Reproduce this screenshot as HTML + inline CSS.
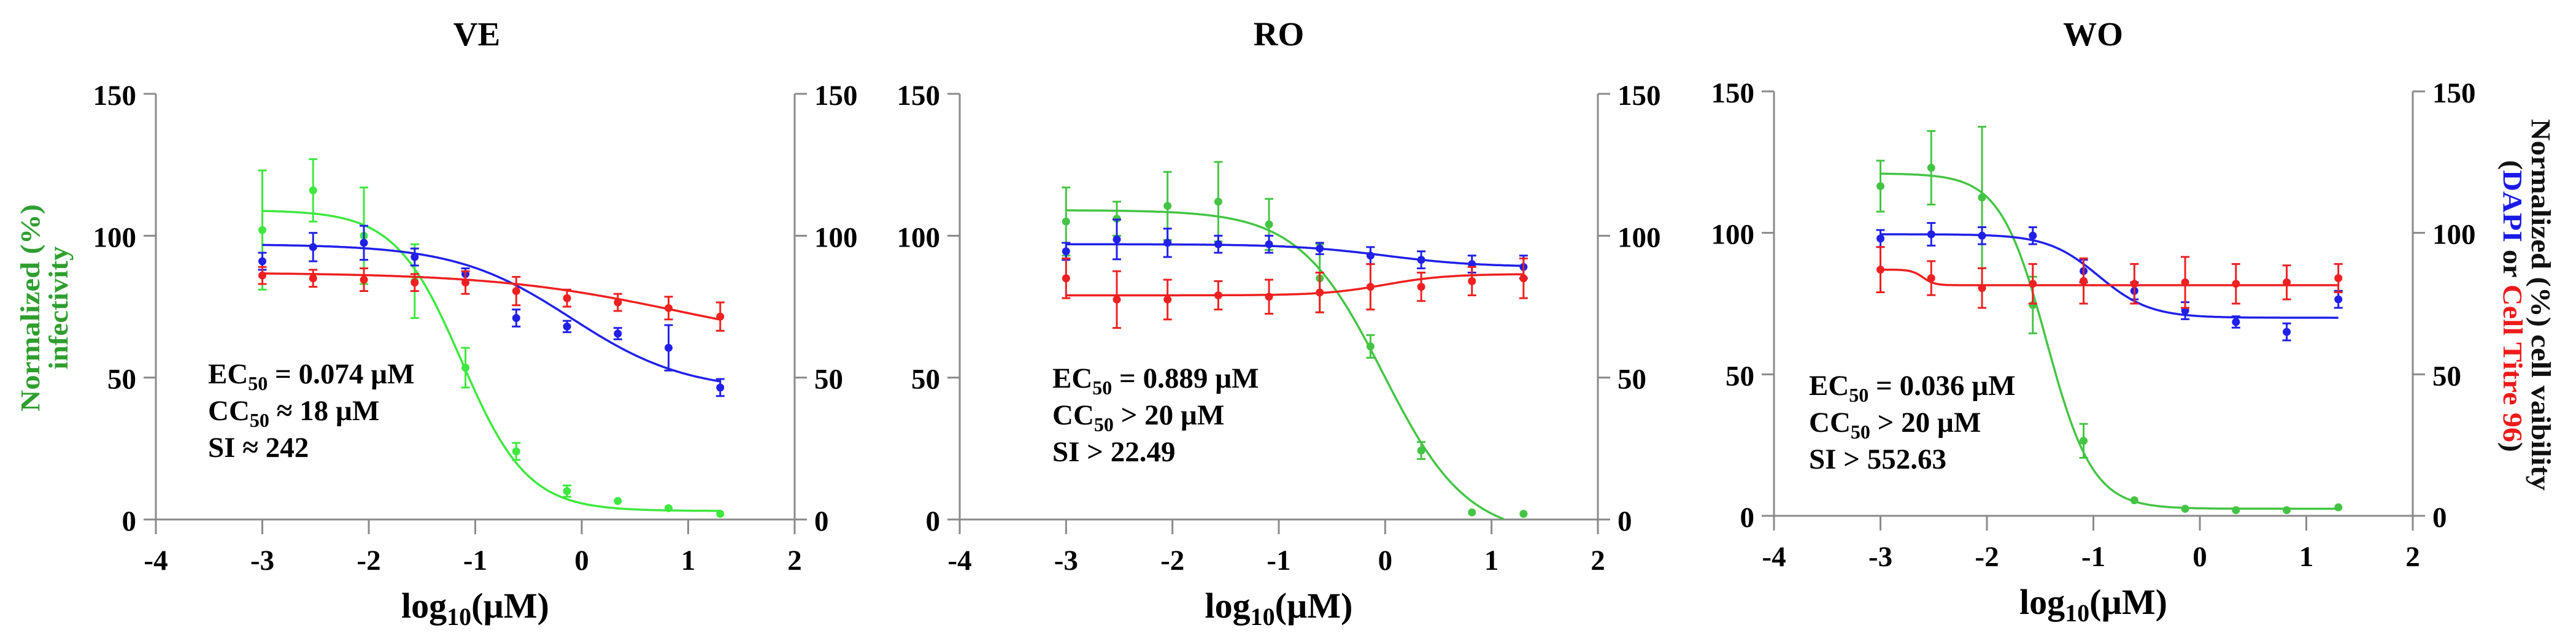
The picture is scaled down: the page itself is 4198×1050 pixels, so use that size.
<!DOCTYPE html>
<html><head><meta charset="utf-8"><style>
html,body{margin:0;padding:0;background:#fff;}
svg{display:block;}
text{font-family:"Liberation Serif",serif;font-weight:bold;}
</style></head><body>
<svg id="chart" width="4198" height="1050" viewBox="0 0 4198 1050" xmlns="http://www.w3.org/2000/svg"></svg>
<script>
const xDoses = [-3, -2.523, -2.046, -1.569, -1.092, -0.615, -0.138, 0.339, 0.816, 1.301];
const xTicks = [-4, -3, -2, -1, 0, 1, 2];
const yTicks = [0, 50, 100, 150];
const panelTitles = ["VE", "RO", "WO"];
// VE
const veGreen = [102, 116, 100, 84, 53.5, 24, 10, 6.5, 4, 2];
const veGreenErr = [21, 11, 17, 13, 7, 3, 2, 1, 1, 1];
const veBlue = [91, 96, 97.5, 92.5, 86.5, 71, 68, 65.5, 60.5, 46.5];
const veBlueErr = [3, 5, 6, 3, 2, 3, 2, 2, 8, 3];
const veRed = [86, 85, 84.5, 83.5, 83.5, 80.5, 78, 76.5, 74.5, 71.5];
const veRedErr = [3, 3, 4, 3, 4, 5, 3, 3, 4, 5];
const veGreenFit = [109, 3, -1.13, 1.4];
const veBlueFit = [97, 45, -0.1, 0.8];
const veRedFit = [87, 60, 0.9, 0.5];
// RO
const roGreen = [105, 106, 110.5, 112, 104, 85, 61, 24.3, 2.5, 2];
const roGreenErr = [12, 6, 12, 14, 9, 12, 4, 3, 0.5, 0.5];
const roBlue = [94.5, 98.7, 97.5, 97, 97, 95.5, 93, 91.5, 90, 89];
const roBlueErr = [3, 7, 5, 3, 3, 2, 3, 3, 3, 4];
const roRed = [85, 77.5, 77.5, 79, 78.5, 80, 82, 82, 84, 85];
const roRedErr = [7, 10, 7, 5, 6, 7, 8, 5, 5, 7];
const roGreenFit = [109, -6, -0.02, 1.1];
const roBlueFit = [97, 89, 0, 1];
const roRedFit = [79, 86.5, 0, 1.5];
// WO
const woGreen = [116.5, 123, 112.5, 74.5, 26.5, 5.5, 2.5, 2, 2, 3];
const woGreenErr = [9, 13, 25, 10, 6, 1, 1, 0.5, 0.5, 1];
const woBlue = [98, 99.5, 99, 99, 86.5, 79.5, 72.5, 68.5, 65, 76.5];
const woBlueErr = [3, 4, 3, 3, 4, 3, 3, 2, 3, 3];
const woRed = [87, 84, 80.5, 82, 83, 82, 82.5, 82, 82.5, 84];
const woRedErr = [8, 6, 7, 7, 8, 7, 9, 7, 6, 5];
const woGreenFit = [121, 2.5, -1.44, 2];
const woBlueFit = [99.5, 70, -0.95, 1.8];
const woRedFit = [87, 81.5, -2.6, 8];

const NS = "http://www.w3.org/2000/svg";
const svg = document.getElementById("chart");
function mk(tag, attrs, parent){ const e=document.createElementNS(NS,tag); for(const k in attrs) e.setAttribute(k,attrs[k]); (parent||svg).appendChild(e); return e; }

const panels = [
  {ax0:254, ax1:1295, y0:847, y150:153, tx:777, key:"ve", series:[[veGreen,veGreenErr,veGreenFit,"#3ee83e"],[veBlue,veBlueErr,veBlueFit,"#2020e8"],[veRed,veRedErr,veRedFit,"#ee2020"]], ann:["0.074 µM","≈ 18 µM","SI ≈ 242"], annX:339, annY:625},
  {ax0:1564, ax1:2604, y0:847, y150:153, tx:2084, key:"ro", series:[[roGreen,roGreenErr,roGreenFit,"#44c444"],[roBlue,roBlueErr,roBlueFit,"#2020e8"],[roRed,roRedErr,roRedFit,"#ee2020"]], ann:["0.889 µM","  > 20 µM","SI > 22.49"], annX:1715, annY:632},
  {ax0:2891, ax1:3932, y0:841, y150:149, tx:3411, key:"wo", series:[[woGreen,woGreenErr,woGreenFit,"#44c444"],[woBlue,woBlueErr,woBlueFit,"#2020e8"],[woRed,woRedErr,woRedFit,"#ee2020"]], ann:["0.036 µM","  > 20 µM","SI > 552.63"], annX:2948, annY:644}
];
const seriesNames=["infectivity","dapi","celltitre"];

panels.forEach((p,pi)=>{
  const g = mk("g",{});
  
  
  const sx = v => p.ax0 + (v+4)/6*(p.ax1-p.ax0);
  const sy = v => p.y0 - v/150*(p.y0-p.y150);
  const t = mk("text",{x:p.tx,y:74,"font-size":55,"text-anchor":"middle"},g); t.textContent=panelTitles[pi];
  
  
  const axc="#8a8a8a";
  mk("line",{x1:p.ax0,y1:p.y150,x2:p.ax0,y2:p.y0+24,stroke:axc,"stroke-width":3},g);
  mk("line",{x1:p.ax1,y1:p.y150,x2:p.ax1,y2:p.y0+24,stroke:axc,"stroke-width":3},g);
  mk("line",{x1:p.ax0-20,y1:p.y0,x2:p.ax1+20,y2:p.y0,stroke:axc,"stroke-width":3},g);
  yTicks.forEach(v=>{
    mk("line",{x1:p.ax0-20,y1:sy(v),x2:p.ax0,y2:sy(v),stroke:axc,"stroke-width":3},g);
    mk("line",{x1:p.ax1,y1:sy(v),x2:p.ax1+20,y2:sy(v),stroke:axc,"stroke-width":3},g);
    const l=mk("text",{x:p.ax0-32,y:sy(v)+18,"font-size":47,"text-anchor":"end"},g); l.textContent=v;
    
    
    const r=mk("text",{x:p.ax1+32,y:sy(v)+18,"font-size":47,"text-anchor":"start"},g); r.textContent=v;
    
    
  });
  xTicks.forEach(v=>{
    mk("line",{x1:sx(v),y1:p.y0,x2:sx(v),y2:p.y0+24,stroke:axc,"stroke-width":3},g);
    const l=mk("text",{x:sx(v),y:p.y0+82,"font-size":47,"text-anchor":"middle"},g); l.textContent=v;
    
    
  });
  const xt=mk("text",{x:(p.ax0+p.ax1)/2,y:p.y0+160,"font-size":58,"text-anchor":"middle"},g);
  xt.innerHTML='log<tspan font-size="40" dy="12">10</tspan><tspan dy="-12">(µM)</tspan>';
  
  
  p.series.forEach((s,si)=>{
    const [vals,errs,fit,col]=s;
    const sg=mk("g",{},g);
    
    
    const f = x => fit[1] + (fit[0]-fit[1])/(1+Math.pow(10,(x-fit[2])*fit[3]));
    let d="";
    for(let i=0;i<=300;i++){ const x=xDoses[0]+(xDoses[9]-xDoses[0])*i/300; const v=f(x); if(v<0) break; d+=(i?"L":"M")+sx(x).toFixed(1)+" "+sy(v).toFixed(1); }
    const c=mk("path",{d:d,fill:"none",stroke:col,"stroke-width":3.5},sg);
    
    
    vals.forEach((v,i)=>{
      const x=sx(xDoses[i]), e=errs[i];
      if(e>1){
        mk("line",{x1:x,y1:sy(v+e),x2:x,y2:sy(v-e),stroke:col,"stroke-width":3},sg);
        mk("line",{x1:x-7,y1:sy(v+e),x2:x+7,y2:sy(v+e),stroke:col,"stroke-width":3},sg);
        mk("line",{x1:x-7,y1:sy(v-e),x2:x+7,y2:sy(v-e),stroke:col,"stroke-width":3},sg);
      }
      const m=mk("circle",{cx:x,cy:sy(v),r:6.5,fill:col},sg);
      
      
    });
  });
  const a=mk("g",{},g);
  
  
  const l1=mk("text",{x:p.annX,y:p.annY,"font-size":47},a); l1.innerHTML='EC<tspan font-size="32" dy="11">50</tspan><tspan dy="-11"> = '+p.ann[0]+'</tspan>';
  const l2=mk("text",{x:p.annX,y:p.annY+60,"font-size":47},a); l2.setAttribute("xml:space","preserve"); l2.innerHTML='CC<tspan font-size="32" dy="11">50</tspan><tspan dy="-11">'+(pi===0?' ':'')+p.ann[1]+'</tspan>';
  const l3=mk("text",{x:p.annX,y:p.annY+120,"font-size":47},a); l3.textContent=p.ann[2];
});

const lt=mk("text",{transform:"translate(64,502) rotate(-90)","font-size":44,"text-anchor":"middle",fill:"#2f9e2f",textLength:338,lengthAdjust:"spacingAndGlyphs"});
lt.textContent="Normalized  (%)";


const lt2=mk("text",{transform:"translate(110,502) rotate(-90)","font-size":44,"text-anchor":"middle",fill:"#2f9e2f",textLength:201,lengthAdjust:"spacingAndGlyphs"});
lt2.textContent="infectivity";


const rt=mk("text",{transform:"translate(4126,497) rotate(90)","font-size":44,"text-anchor":"middle",fill:"#111",textLength:606,lengthAdjust:"spacingAndGlyphs"});
rt.setAttribute("xml:space","preserve");
rt.textContent="Normalized  (%) cell vaibility";


const rt2=mk("text",{transform:"translate(4080,499) rotate(90)","font-size":44,"text-anchor":"middle",fill:"#111",textLength:476,lengthAdjust:"spacingAndGlyphs"});
rt2.innerHTML='(<tspan fill="#1a1ae6">DAPI</tspan> or <tspan fill="#ee1a1a">Cell Titre 96</tspan>)';


</script>
</body></html>
